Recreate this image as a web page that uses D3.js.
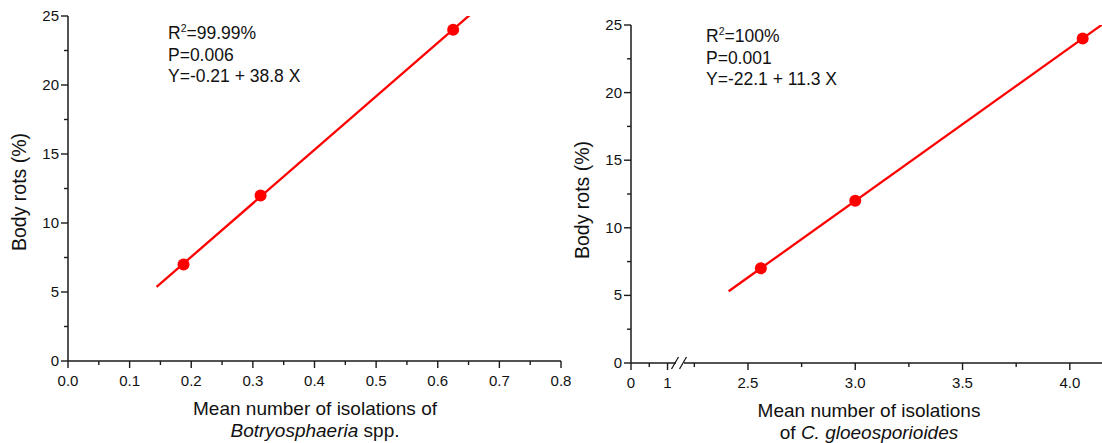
<!DOCTYPE html>
<html>
<head>
<meta charset="utf-8">
<script src="https://cdn.jsdelivr.net/npm/d3@7"></script>
<style>
  body { margin: 0; background: #fff; }
  svg text { font-family: "Liberation Sans", Arial, sans-serif; fill: #111; }
</style>
</head>
<body>
<svg id="viz"></svg>
<script>
// data
const botX = [0.1875, 0.3125, 0.625];
const botY = [7, 12, 24];
const colX = [2.56, 3.0, 4.06];
const colY = [7, 12, 24];

const botXTicks = [0, 0.1, 0.2, 0.3, 0.4, 0.5, 0.6, 0.7, 0.8];
const colXTicks = [0, 1, 2.5, 3.0, 3.5, 4.0];
const colXMinor = [0.5, 2.25, 2.75, 3.25, 3.75];
const yTicks = [0, 5, 10, 15, 20, 25];

const botStats = ["99.99%", "P=0.006", "Y=-0.21 + 38.8 X"];
const colStats = ["100%", "P=0.001", "Y=-22.1 + 11.3 X"];

const width = 1102;
const height = 443;
const red = "#ff0000";
const axisColor = "#1a1a1a";

const svg = d3.select("#viz").attr("width", width).attr("height", height);
const defs = svg.append("defs");

// least squares fit, returns [intercept, slope]
function fit(xs, ys) {
  const mx = d3.mean(xs), my = d3.mean(ys);
  let sxy = 0, sxx = 0;
  xs.forEach((x, i) => {
    sxy += (x - mx) * (ys[i] - my);
    sxx += (x - mx) * (x - mx);
  });
  const b = sxy / sxx;
  return [my - b * mx, b];
}

function drawPanel(opt) {
  const g = svg.append("g");
  const x = opt.x;
  const y = opt.y;
  const [x0, x1] = [x.range()[0], x.range()[x.range().length - 1]];
  const [yb, yt] = y.range();

  // clip for fit line
  defs.append("clipPath").attr("id", opt.id)
    .append("rect")
    .attr("x", x0).attr("y", yt)
    .attr("width", x1 - x0).attr("height", yb - yt);

  // y axis
  g.append("line")
    .attr("x1", x0).attr("x2", x0).attr("y1", yb).attr("y2", yt)
    .attr("stroke", axisColor).attr("stroke-width", 1.5);
  d3.range(0, 25.01, 2.5).forEach((v) => {
    const major = v % 5 === 0;
    g.append("line")
      .attr("x1", x0).attr("x2", x0 - (major ? 7 : 4))
      .attr("y1", y(v)).attr("y2", y(v))
      .attr("stroke", axisColor).attr("stroke-width", 1.4);
  });
  yTicks.forEach((v) => {
    g.append("text")
      .attr("x", x0 - 9).attr("y", y(v) + 5)
      .attr("text-anchor", "end")
      .style("font-size", "15px")
      .text(v);
  });

  // x axis
  if (opt.breakAt) {
    const bx = opt.breakAt;
    g.append("line")
      .attr("x1", x0).attr("x2", bx - 3).attr("y1", yb).attr("y2", yb)
      .attr("stroke", axisColor).attr("stroke-width", 1.5);
    g.append("line")
      .attr("x1", bx + 5).attr("x2", x1).attr("y1", yb).attr("y2", yb)
      .attr("stroke", axisColor).attr("stroke-width", 1.5);
    [bx - 4, bx + 4].forEach((cx) => {
      g.append("line")
        .attr("x1", cx - 3.5).attr("x2", cx + 3.5)
        .attr("y1", yb + 6).attr("y2", yb - 6)
        .attr("stroke", axisColor).attr("stroke-width", 1.3);
    });
  } else {
    g.append("line")
      .attr("x1", x0).attr("x2", x1).attr("y1", yb).attr("y2", yb)
      .attr("stroke", axisColor).attr("stroke-width", 1.5);
  }
  opt.minor.forEach((v) => {
    g.append("line")
      .attr("x1", x(v)).attr("x2", x(v)).attr("y1", yb).attr("y2", yb + 4)
      .attr("stroke", axisColor).attr("stroke-width", 1.4);
  });
  opt.ticks.forEach((v, i) => {
    g.append("line")
      .attr("x1", x(v)).attr("x2", x(v)).attr("y1", yb).attr("y2", yb + 7)
      .attr("stroke", axisColor).attr("stroke-width", 1.4);
    g.append("text")
      .attr("x", x(v)).attr("y", yb + 25)
      .attr("text-anchor", "middle")
      .style("font-size", "15px")
      .text(opt.tickFormat(v, i));
  });

  // fit line over data range +/- 10%
  const [a, b] = fit(opt.xs, opt.ys);
  const ext = d3.extent(opt.xs);
  const pad = (ext[1] - ext[0]) * 0.1;
  const lx = [ext[0] - pad, ext[1] + pad];
  g.append("line")
    .attr("clip-path", `url(#${opt.id})`)
    .attr("x1", x(lx[0])).attr("y1", y(a + b * lx[0]))
    .attr("x2", x(lx[1])).attr("y2", y(a + b * lx[1]))
    .attr("stroke", red).attr("stroke-width", 2.3);

  // points
  g.selectAll("circle.pt")
    .data(opt.xs)
    .enter()
    .append("circle")
    .attr("cx", (d) => x(d))
    .attr("cy", (d, i) => y(opt.ys[i]))
    .attr("r", 6)
    .attr("fill", red);

  // stats text
  const t = g.append("text")
    .attr("x", opt.statsX).attr("y", opt.statsY)
    .style("font-size", "17.5px");
  t.append("tspan").text("R");
  t.append("tspan").attr("dy", -7).style("font-size", "10.5px").text("2");
  t.append("tspan").attr("dy", 7).text("=" + opt.stats[0]);
  opt.stats.slice(1).forEach((s, i) => {
    g.append("text")
      .attr("x", opt.statsX).attr("y", opt.statsY + 21.5 * (i + 1))
      .style("font-size", "17.5px")
      .text(s);
  });

  // y title
  g.append("text")
    .attr("transform", `translate(${opt.yTitleX},${opt.yTitleY}) rotate(-90)`)
    .attr("text-anchor", "middle")
    .style("font-size", "19.5px")
    .text("Body rots (%)");

  // x title (two lines)
  opt.xTitle.forEach((parts, i) => {
    const tt = g.append("text")
      .attr("x", opt.xTitleX).attr("y", yb + 54 + 22 * i)
      .attr("text-anchor", "middle")
      .style("font-size", "19px");
    parts.forEach((p) => {
      tt.append("tspan").style("font-style", p[1] ? "italic" : "normal").text(p[0]);
    });
  });
}

// Botryosphaeria panel
drawPanel({
  id: "clipBot",
  x: d3.scaleLinear().domain([0, 0.8]).range([68, 561]),
  y: d3.scaleLinear().domain([0, 25]).range([361, 16]),
  xs: botX, ys: botY,
  ticks: botXTicks,
  minor: d3.range(0.05, 0.8, 0.1),
  tickFormat: (v) => d3.format(".1f")(v),
  stats: botStats, statsX: 168, statsY: 39,
  yTitleX: 26, yTitleY: 192,
  xTitleX: 315,
  xTitle: [[["Mean number of isolations of", false]], [["Botryosphaeria", true], [" spp.", false]]],
});

// C. gloeosporioides panel (broken x axis)
drawPanel({
  id: "clipCol",
  x: d3.scaleLinear().domain([0, 1.3, 2.2, 4.15]).range([631, 678.5, 683.6, 1102]),
  y: d3.scaleLinear().domain([0, 25]).range([363, 25]),
  xs: colX, ys: colY,
  ticks: colXTicks,
  minor: colXMinor,
  tickFormat: (v) => (v < 2 ? d3.format("d")(v) : d3.format(".1f")(v)),
  breakAt: 679,
  stats: colStats, statsX: 706, statsY: 42,
  yTitleX: 589, yTitleY: 200,
  xTitleX: 869,
  xTitle: [[["Mean number of isolations", false]], [["of ", false], ["C. gloeosporioides", true]]],
});
</script>
</body>
</html>
